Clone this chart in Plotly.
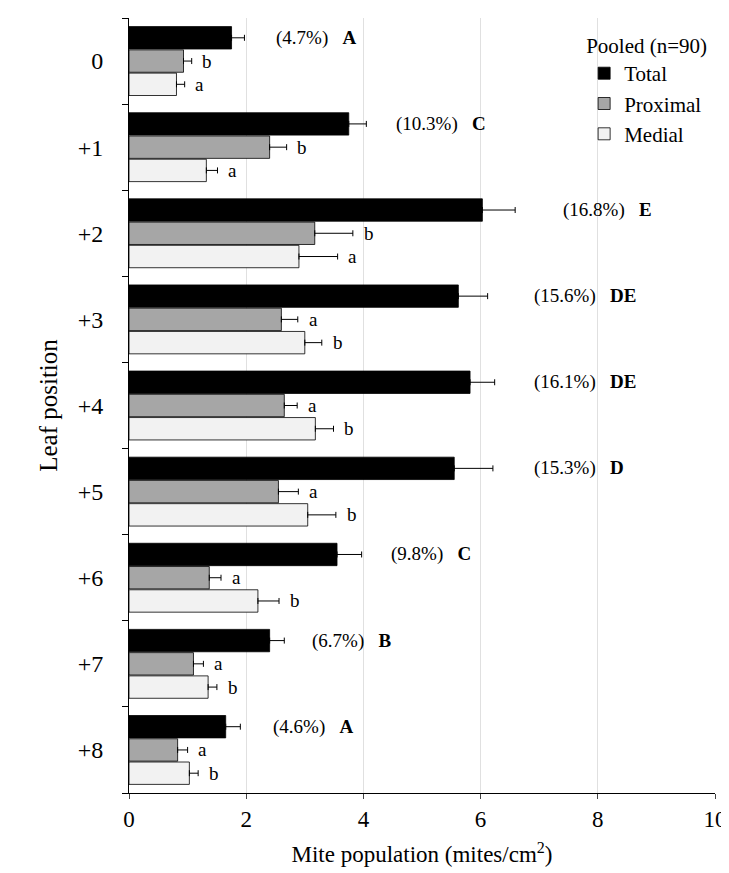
import plotly.graph_objects as go

positions = ['0', '+1', '+2', '+3', '+4', '+5', '+6', '+7', '+8']
total = [1.75, 3.75, 6.03, 5.62, 5.82, 5.55, 3.55, 2.40, 1.65]
total_err = [0.22, 0.30, 0.56, 0.50, 0.42, 0.66, 0.42, 0.25, 0.25]
proximal = [0.93, 2.40, 3.17, 2.60, 2.65, 2.55, 1.37, 1.10, 0.83]
proximal_err = [0.14, 0.29, 0.65, 0.28, 0.22, 0.34, 0.20, 0.17, 0.17]
medial = [0.81, 1.32, 2.90, 3.00, 3.18, 3.05, 2.20, 1.35, 1.03]
medial_err = [0.14, 0.19, 0.66, 0.29, 0.31, 0.48, 0.36, 0.15, 0.15]
percent = ['(4.7%)', '(10.3%)', '(16.8%)', '(15.6%)', '(16.1%)', '(15.3%)', '(9.8%)', '(6.7%)', '(4.6%)']
total_letter = ['A', 'C', 'E', 'DE', 'DE', 'D', 'C', 'B', 'A']
proximal_letter = ['b', 'b', 'b', 'a', 'a', 'a', 'a', 'a', 'a']
medial_letter = ['a', 'a', 'a', 'b', 'b', 'b', 'b', 'b', 'b']
# x where the percent label starts
percent_x = [2.48, 4.53, 7.38, 6.87, 6.87, 6.87, 4.43, 3.09, 2.42]

font = 'Liberation Serif'
ys = list(range(len(positions)))

fig = go.Figure()
for name, vals, errs, color, off in [('Total', total, total_err, 'black', -0.27),
                                     ('Proximal', proximal, proximal_err, '#a6a6a6', 0.0),
                                     ('Medial', medial, medial_err, '#f2f2f2', 0.27)]:
    fig.add_trace(go.Bar(
        x=vals, y=[y + off for y in ys], orientation='h', name=name, width=0.26,
        marker=dict(color=color, line=dict(color='black', width=0.8)),
        error_x=dict(type='data', symmetric=False, array=errs, arrayminus=[0] * len(errs),
                     color='black', thickness=1, width=3)))

ann = []
f = dict(family=font, size=19, color='black')
for i in ys:
    ann.append(dict(x=percent_x[i], y=i - 0.27, text=percent[i] + '&nbsp;&nbsp;&nbsp;<b>' + total_letter[i] + '</b>',
                    xanchor='left', showarrow=False, font=f))
    ann.append(dict(x=proximal[i] + proximal_err[i] + 0.15, y=i, text=proximal_letter[i],
                    xanchor='left', showarrow=False, font=f))
    ann.append(dict(x=medial[i] + medial_err[i] + 0.15, y=i + 0.27, text=medial_letter[i],
                    xanchor='left', showarrow=False, font=f))
fig.update_layout(annotations=ann)

fig.update_layout(
    width=729, height=873, margin=dict(l=121, r=22, t=10, b=88),
    paper_bgcolor='white', plot_bgcolor='white',
    font=dict(family=font, color='black', size=20),
    barmode='overlay',
    legend=dict(x=0.99, y=0.99, xanchor='right', yanchor='top',
                title=dict(text='Pooled (n=90)', font=dict(family=font, size=21, color='black')),
                font=dict(family=font, size=21, color='black'), bgcolor='rgba(0,0,0,0)', itemwidth=30, tracegroupgap=0),
    xaxis=dict(range=[0, 10], dtick=2, showgrid=True, gridcolor='#e0e0e0', showline=True, linecolor='black',
               ticks='outside', ticklen=5, tickfont=dict(family=font, size=23),
               title=dict(text='Mite population (mites/cm<sup>2</sup>)', font=dict(family=font, size=23))),
    yaxis=dict(range=[8.5, -0.5], tickvals=ys, ticktext=positions, showgrid=False, showline=True, linecolor='black',
               ticks='', tickfont=dict(family=font, size=24), zeroline=False, ticklabelstandoff=20,
               minor=dict(tickvals=[y - 0.5 for y in ys] + [8.5], ticks='outside', ticklen=6, tickcolor='black'),
               title=dict(text='Leaf position', font=dict(family=font, size=25), standoff=12)),
)

fig.write_html('out.html')
